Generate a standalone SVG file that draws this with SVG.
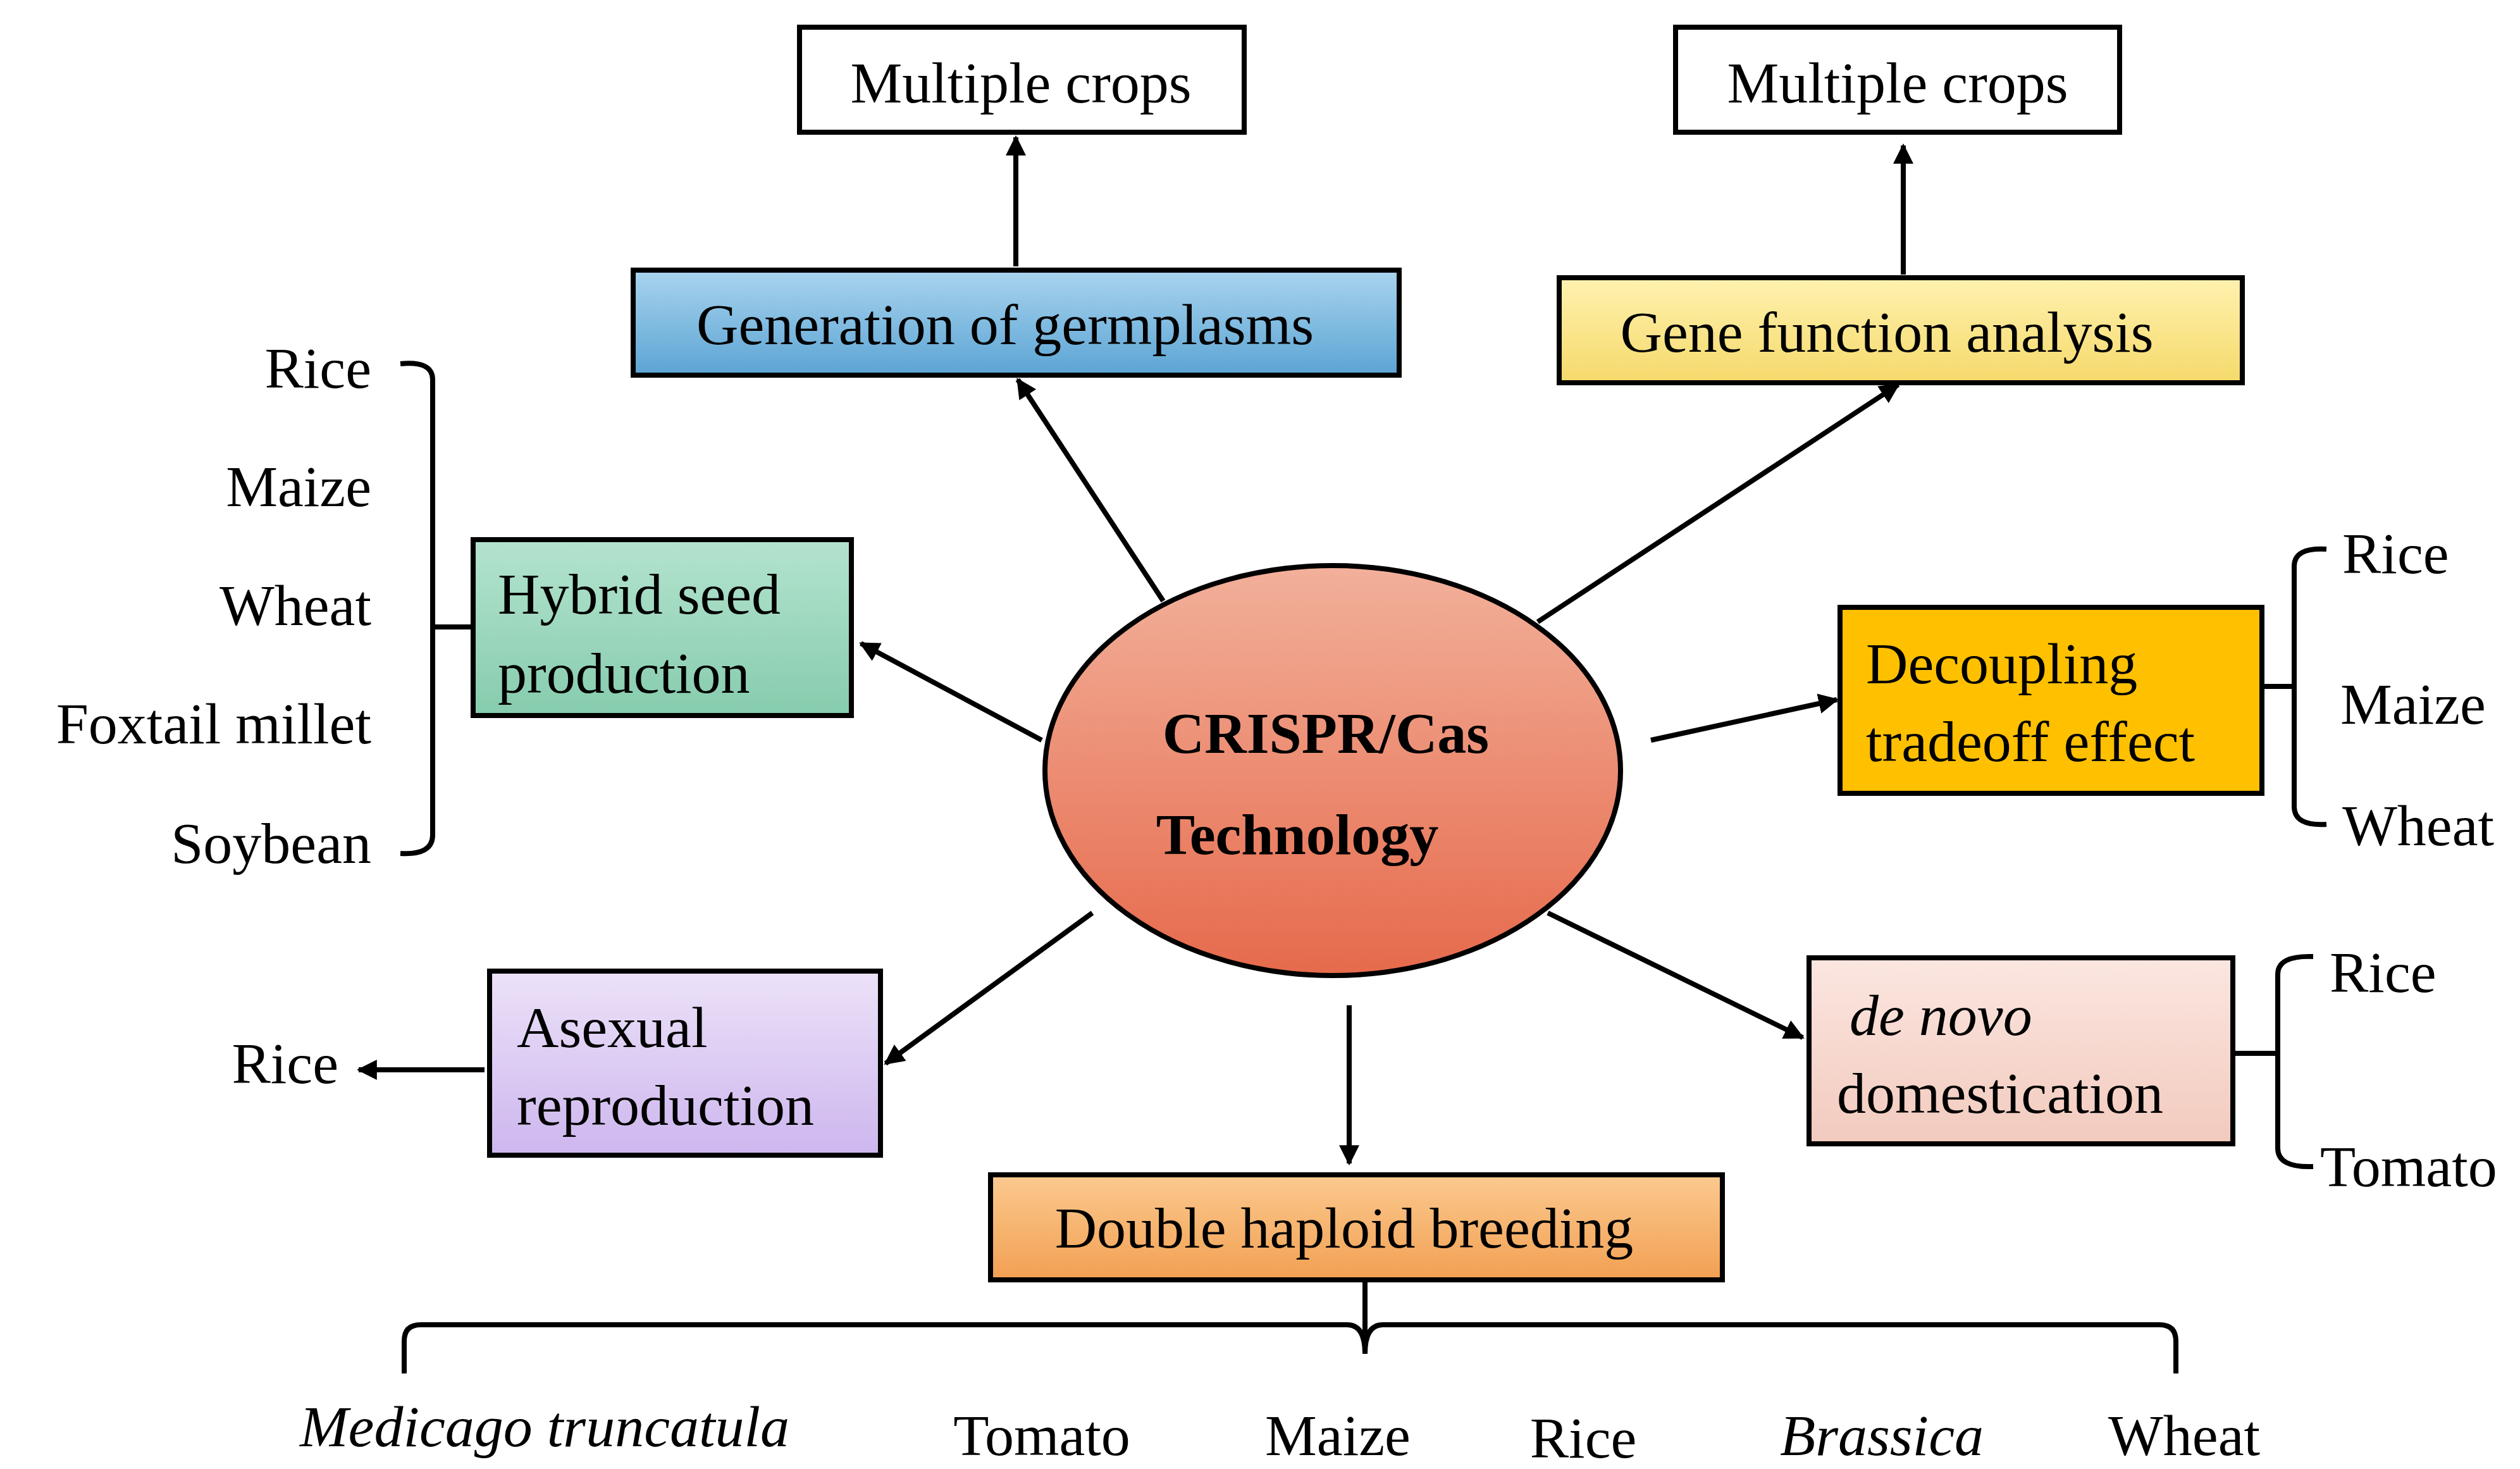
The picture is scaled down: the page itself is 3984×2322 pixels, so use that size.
<svg xmlns="http://www.w3.org/2000/svg" width="3984" height="2322" viewBox="0 0 3984 2322">
<style>
text{font-family:"Liberation Serif","Times New Roman",serif;font-size:92px;fill:#000}
.b{stroke:#000;stroke-width:8}
.c line,.c path{stroke:#000;stroke-width:8;fill:none}
.m{text-anchor:middle}
.e{text-anchor:end}
.i{font-style:italic}
</style>
<defs>
<marker id="a" viewBox="0 0 10 10" refX="9" refY="5" markerWidth="4" markerHeight="4" orient="auto"><path d="M0,0L10,5L0,10z" fill="#000"/></marker>
<linearGradient id="gb" x1="0" y1="0" x2="0" y2="1"><stop offset="0" stop-color="#a9d4ee"/><stop offset="1" stop-color="#5ba4d4"/></linearGradient>
<linearGradient id="gy" x1="0" y1="0" x2="0" y2="1"><stop offset="0" stop-color="#fff2b0"/><stop offset="1" stop-color="#f5d96a"/></linearGradient>
<linearGradient id="gg" x1="0" y1="0" x2="0" y2="1"><stop offset="0" stop-color="#b4e3cf"/><stop offset="1" stop-color="#86ccad"/></linearGradient>
<linearGradient id="gl" x1="0" y1="0" x2="0" y2="1"><stop offset="0" stop-color="#ece2f8"/><stop offset="1" stop-color="#cdb6ee"/></linearGradient>
<linearGradient id="gp" x1="0" y1="0" x2="0" y2="1"><stop offset="0" stop-color="#fbe6e0"/><stop offset="1" stop-color="#f2cabe"/></linearGradient>
<linearGradient id="go" x1="0" y1="0" x2="0" y2="1"><stop offset="0" stop-color="#fbc98f"/><stop offset="1" stop-color="#f2a052"/></linearGradient>
<linearGradient id="gr" x1="0" y1="0" x2="0" y2="1"><stop offset="0" stop-color="#f2b09a"/><stop offset="1" stop-color="#e66a4c"/></linearGradient>
</defs>
<g class="c">
<line x1="1606" y1="421" x2="1606" y2="217" marker-end="url(#a)"/>
<line x1="3009" y1="434" x2="3009" y2="230" marker-end="url(#a)"/>
<line x1="1839" y1="950" x2="1609" y2="600" marker-end="url(#a)"/>
<line x1="2431" y1="983" x2="3001" y2="608" marker-end="url(#a)"/>
<line x1="1647" y1="1170" x2="1361" y2="1017" marker-end="url(#a)"/>
<line x1="2610" y1="1170" x2="2904" y2="1106" marker-end="url(#a)"/>
<line x1="1727" y1="1443" x2="1400" y2="1681" marker-end="url(#a)"/>
<line x1="2133" y1="1589" x2="2133" y2="1839" marker-end="url(#a)"/>
<line x1="2447" y1="1443" x2="2850" y2="1640" marker-end="url(#a)"/>
<line x1="766" y1="1691" x2="567" y2="1691" marker-end="url(#a)"/>
<path d="M633,575 Q684,570 684,600 V1320 Q684,1352 633,1349 M684,991 H748"/>
<path d="M3678,868 Q3627,865 3627,895 V1275 Q3627,1306 3678,1303 M3576,1085 H3627"/>
<path d="M3657,1512 Q3601,1510 3601,1540 V1815 Q3601,1846 3657,1844 M3530,1665 H3601"/>
<path d="M639,2171 V2120 Q639,2094 665,2094 H2130 Q2158,2094 2158,2140 Q2158,2094 2186,2094 H3414 Q3440,2094 3440,2120 V2171 M2158,2140 V2023"/>
</g>
<g id="mc1"><rect class="b" x="1264" y="43" width="703" height="166" fill="#fff"/><text class="m" x="1614" y="162">Multiple crops</text></g>
<g id="mc2"><rect class="b" x="2649" y="43" width="702" height="166" fill="#fff"/><text class="m" x="3000" y="162">Multiple crops</text></g>
<g id="germ"><rect class="b" x="1001" y="427" width="1211" height="166" fill="url(#gb)"/><text class="m" x="1589" y="544">Generation of germplasms</text></g>
<g id="gene"><rect class="b" x="2465" y="439" width="1080" height="166" fill="url(#gy)"/><text class="m" x="2983" y="556">Gene function analysis</text></g>
<g id="hyb"><rect class="b" x="748" y="853" width="598" height="278" fill="url(#gg)"/><text x="787" y="970">Hybrid seed</text><text x="787" y="1095">production</text></g>
<g id="dec"><rect class="b" x="2909" y="960" width="667" height="294" fill="#ffc000"/><text x="2950" y="1080">Decoupling</text><text x="2950" y="1203">tradeoff effect</text></g>
<g id="crispr"><ellipse class="b" cx="2107" cy="1218" rx="455" ry="324" fill="url(#gr)"/><text class="m" x="2096" y="1190" font-weight="bold" font-size="102">CRISPR/Cas</text><text class="m" x="2051" y="1350" font-weight="bold" font-size="102">Technology</text></g>
<g id="asex"><rect class="b" x="774" y="1535" width="618" height="291" fill="url(#gl)"/><text x="817" y="1655">Asexual</text><text x="817" y="1778">reproduction</text></g>
<g id="denovo"><rect class="b" x="2860" y="1514" width="670" height="294" fill="url(#gp)"/><text class="i" x="2924" y="1636">de novo</text><text x="2904" y="1759">domestication</text></g>
<g id="dh"><rect class="b" x="1566" y="1857" width="1157" height="166" fill="url(#go)"/><text class="m" x="2125" y="1972">Double haploid breeding</text></g>
<g id="labels">
<text class="e" x="587" y="613">Rice</text>
<text class="e" x="587" y="800">Maize</text>
<text class="e" x="587" y="988">Wheat</text>
<text class="e" x="587" y="1175">Foxtail millet</text>
<text class="e" x="587" y="1364">Soybean</text>
<text x="3703" y="906">Rice</text>
<text x="3700" y="1144">Maize</text>
<text x="3703" y="1336">Wheat</text>
<text x="3683" y="1568">Rice</text>
<text x="3668" y="1875">Tomato</text>
<text class="e" x="535" y="1712">Rice</text>
<text class="m i" x="861" y="2286">Medicago truncatula</text>
<text class="m" x="1647" y="2300">Tomato</text>
<text class="m" x="2115" y="2300">Maize</text>
<text class="m" x="2503" y="2304">Rice</text>
<text class="m i" x="2975" y="2300">Brassica</text>
<text class="m" x="3453" y="2300">Wheat</text>
</g>
</svg>
